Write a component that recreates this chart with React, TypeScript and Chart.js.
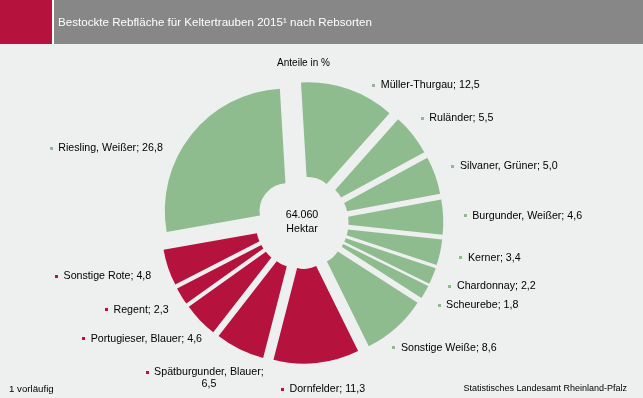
import React, { useEffect, useRef } from 'react';
import { Chart, registerables } from 'chart.js';

Chart.register(...registerables);

// ---- data ----
const categories = [
  'Müller-Thurgau',
  'Ruländer',
  'Silvaner, Grüner',
  'Burgunder, Weißer',
  'Kerner',
  'Chardonnay',
  'Scheurebe',
  'Sonstige Weiße',
  'Dornfelder',
  'Spätburgunder, Blauer',
  'Portugieser, Blauer',
  'Regent',
  'Sonstige Rote',
  'Riesling, Weißer',
];
const shares = [12.5, 5.5, 5.0, 4.6, 3.4, 2.2, 1.8, 8.6, 11.3, 6.5, 4.6, 2.3, 4.8, 26.8];
const wineTypes = ['w', 'w', 'w', 'w', 'w', 'w', 'w', 'w', 'r', 'r', 'r', 'r', 'r', 'w'];
const totalHectares = 64060;
const titleText = 'Bestockte Rebfläche für Keltertrauben 2015¹ nach Rebsorten';
const subtitleText = 'Anteile in %';
const unitText = 'Hektar';
const footnoteText = '1 vorläufig';
const sourceText = 'Statistisches Landesamt Rheinland-Pfalz';

// ---- styles ----
const W = 643;
const H = 398;
const GREEN = '#8fbc8f';
const RED = '#b5123e';
const BG = '#eeefef';
const HEADER_GREY = '#878787';
const FONT = '"Liberation Sans", Arial, sans-serif';
const EXPLODE = 19;
const LABEL_GAP = 20.5;
const MAX_LABEL_W = 118;
const LABEL_ANGLE_NUDGE: Record<string, number> = { 'Müller-Thurgau': 16, 'Riesling, Weißer': -12 };

const fmtDec = (v: number) => v.toFixed(1).replace('.', ',');
const fmtThousands = (v: number) => String(v).replace(/\B(?=(\d{3})+(?!\d))/g, '.');

const explodePlugin = {
  id: 'explode',
  beforeDatasetsDraw(chart: any) {
    const meta = chart.getDatasetMeta(0);
    meta.data.forEach((arc: any) => {
      if (arc.__exploded) return;
      arc.__exploded = true;
      const orig = arc.draw;
      arc.draw = function (ctx: CanvasRenderingContext2D) {
        const mid = (this.startAngle + this.endAngle) / 2;
        ctx.save();
        ctx.translate(Math.cos(mid) * EXPLODE, Math.sin(mid) * EXPLODE);
        orig.call(this, ctx);
        ctx.restore();
      };
    });
  },
};

const decorPlugin = {
  id: 'decor',
  beforeDraw(chart: any) {
    const ctx: CanvasRenderingContext2D = chart.ctx;
    ctx.save();
    ctx.fillStyle = BG;
    ctx.fillRect(0, 0, W, H);
    ctx.fillStyle = HEADER_GREY;
    ctx.fillRect(0, 0, W, 44);
    ctx.fillStyle = RED;
    ctx.fillRect(0, 0, 52, 44);
    ctx.fillStyle = '#ffffff';
    ctx.fillRect(52, 0, 2, 44);
    ctx.fillStyle = '#ffffff';
    ctx.font = `11.6px ${FONT}`;
    ctx.textBaseline = 'middle';
    ctx.textAlign = 'left';
    ctx.fillText(titleText, 58, 23);
    ctx.fillStyle = '#000000';
    ctx.font = `9.7px ${FONT}`;
    ctx.fillText(footnoteText, 9, 389);
    ctx.font = `9px ${FONT}`;
    ctx.textAlign = 'right';
    ctx.fillText(sourceText, 627, 389);
    ctx.restore();
  },
  afterDatasetsDraw(chart: any) {
    const ctx: CanvasRenderingContext2D = chart.ctx;
    const meta = chart.getDatasetMeta(0);
    const first = meta.data[0];
    const cx = first.x;
    const cy = first.y;
    ctx.save();
    ctx.fillStyle = '#000000';
    ctx.textBaseline = 'middle';
    ctx.font = `10px ${FONT}`;
    ctx.textAlign = 'center';
    ctx.fillText(subtitleText, cx + 1.5, 63);
    ctx.font = `10.67px ${FONT}`;
    ctx.fillText(fmtThousands(totalHectares), cx, cy - 7);
    ctx.fillText(unitText, cx, cy + 7);

    ctx.textAlign = 'left';
    meta.data.forEach((arc: any, i: number) => {
      const text = `${categories[i]}; ${fmtDec(shares[i])}`;
      const words = text.split(' ');
      const lines: string[] = [];
      let cur = '';
      words.forEach((wd) => {
        const t = cur ? cur + ' ' + wd : wd;
        if (cur && ctx.measureText(t).width > MAX_LABEL_W) {
          lines.push(cur);
          cur = wd;
        } else cur = t;
      });
      if (cur) lines.push(cur);
      const textW = Math.max(...lines.map((l) => ctx.measureText(l).width));
      const bw = 8.5 + textW;
      const lh = 12;
      const bh = lines.length * lh;
      const nudge = ((LABEL_ANGLE_NUDGE[categories[i]] || 0) * Math.PI) / 180;
      const a = (arc.startAngle + arc.endAngle) / 2 + nudge;
      const D = arc.outerRadius + EXPLODE + LABEL_GAP;
      const ax = cx + Math.cos(a) * D;
      const ay = cy + Math.sin(a) * D;
      const left = ax - (bw * (1 - Math.cos(a))) / 2;
      const top = ay - (bh * (1 - Math.sin(a))) / 2;
      ctx.fillStyle = wineTypes[i] === 'r' ? RED : GREEN;
      ctx.fillRect(Math.round(left), Math.round(top + 6 - 1.5), 3, 3);
      ctx.fillStyle = '#000000';
      lines.forEach((l, k) => {
        const lw = ctx.measureText(l).width;
        ctx.fillText(l, left + 8.5 + (textW - lw) / 2, top + 6 + k * lh);
      });
    });
    ctx.restore();
  },
};

export default function App() {
  const ref = useRef<HTMLCanvasElement | null>(null);
  useEffect(() => {
    document.body.style.margin = '0';
    const canvas = ref.current!;
    const chart = new Chart(canvas, {
      type: 'doughnut',
      data: {
        labels: categories,
        datasets: [
          {
            data: shares,
            backgroundColor: wineTypes.map((t) => (t === 'r' ? RED : GREEN)),
            borderWidth: 0,
          },
        ],
      },
      options: {
        responsive: false,
        animation: false,
        rotation: -3.4,
        radius: 122.3,
        cutout: '22.5%',
        layout: { padding: { left: 150, right: 189, top: 90, bottom: 43 } },
        plugins: { legend: { display: false }, tooltip: { enabled: false } },
        events: [],
      },
      plugins: [decorPlugin, explodePlugin],
    });
    return () => chart.destroy();
  }, []);
  return <canvas ref={ref} width={W} height={H} style={{ display: 'block' }} />;
}
